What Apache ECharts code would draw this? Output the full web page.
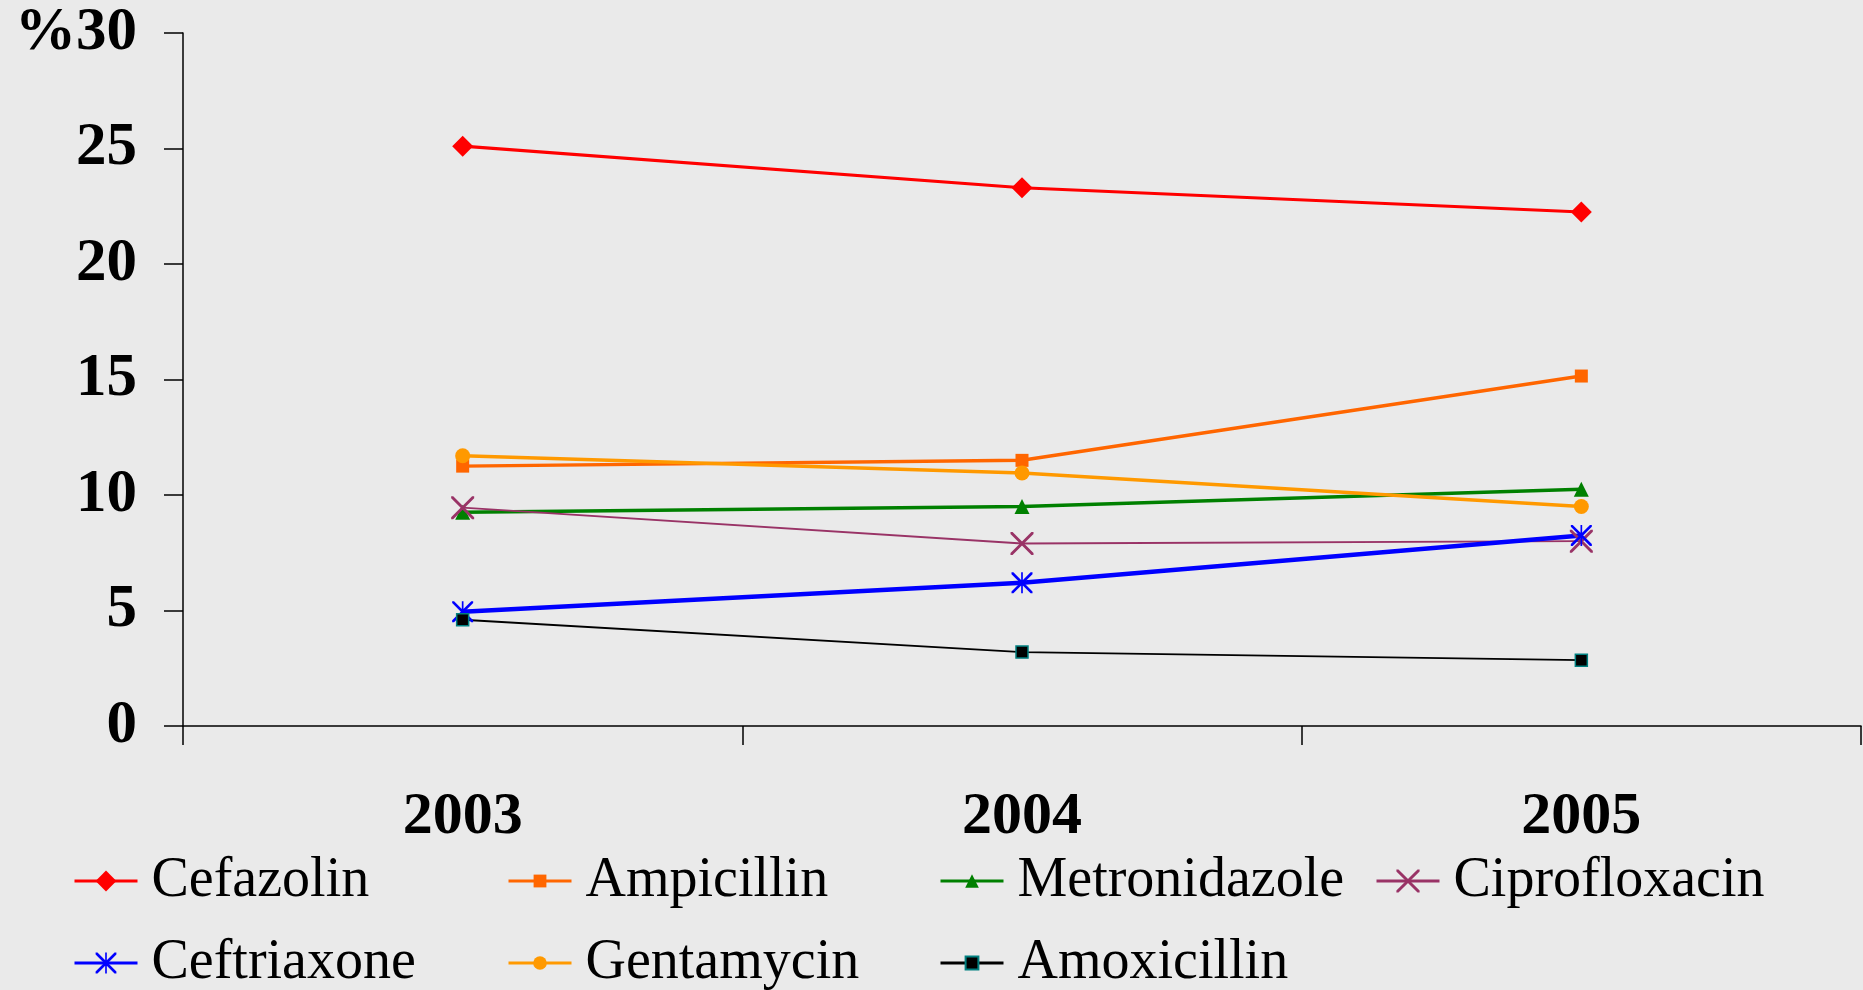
<!DOCTYPE html>
<html>
<head>
<meta charset="utf-8">
<script src="https://cdn.jsdelivr.net/npm/echarts@6/dist/echarts.min.js"></script>
<style>
html,body{margin:0;padding:0;background:#eaeaea;}
#chart{width:1863px;height:990px;}
</style>
</head>
<body>
<div id="chart"></div>
<script>
const years = ['2003', '2004', '2005'];
const yTicks = [0, 5, 10, 15, 20, 25, 30];
const cefazolin = [25.1, 23.3, 22.25];
const ampicillin = [11.25, 11.5, 15.15];
const metronidazole = [9.25, 9.5, 10.25];
const ciprofloxacin = [9.45, 7.9, 8.0];
const ceftriaxone = [4.95, 6.2, 8.25];
const gentamycin = [11.7, 10.95, 9.5];
const amoxicillin = [4.6, 3.2, 2.85];

const FONT = '"Liberation Serif", "Times New Roman", serif';
const xPath = 'path://M0,0 L9,0 L100,91 L100,100 L91,100 L0,9 Z M100,0 L100,9 L9,100 L0,100 L0,91 L91,0 Z';
const starPath = 'path://M0,0 L9,0 L100,91 L100,100 L91,100 L0,9 Z M100,0 L100,9 L9,100 L0,100 L0,91 L91,0 Z M46,0 L54,0 L54,100 L46,100 Z';

const seriesDefs = [
  {name: 'Cefazolin', data: cefazolin, color: '#ff0000', symbol: 'diamond', size: 21, lw: 3.2, legendH: 26},
  {name: 'Ampicillin', data: ampicillin, color: '#ff6600', symbol: 'rect', size: 13, lw: 3.5, legendH: 16},
  {name: 'Metronidazole', data: metronidazole, color: '#008000', symbol: 'triangle', size: 15, lw: 3.5, legendH: 17},
  {name: 'Ciprofloxacin', data: ciprofloxacin, color: '#993366', symbol: xPath, size: 23, lw: 1.8, legendH: 29},
  {name: 'Ceftriaxone', data: ceftriaxone, color: '#0000ff', symbol: starPath, size: 21, lw: 4.5, legendH: 26},
  {name: 'Gentamycin', data: gentamycin, color: '#ff9900', symbol: 'circle', size: 15, lw: 3.5, legendH: 17},
  {name: 'Amoxicillin', data: amoxicillin, color: '#000000', symbol: 'rect', size: 12, lw: 1.8, legendH: 16, border: '#008080'}
];

const legendPos = [
  {left: 73, top: 853}, {left: 507, top: 853}, {left: 939, top: 853}, {left: 1375, top: 853},
  {left: 73, top: 935}, {left: 507, top: 935}, {left: 939, top: 935}
];

const series = seriesDefs.map(d => ({
  name: d.name,
  type: 'line',
  data: d.data,
  symbol: d.symbol,
  symbolSize: d.size,
  showSymbol: true,
  lineStyle: {color: d.color, width: d.lw},
  itemStyle: {color: d.color, borderColor: d.border || d.color, borderWidth: d.border ? 1.5 : 0},
  emphasis: {disabled: true}
}));

const legends = seriesDefs.map((d, i) => ({
  data: [d.name],
  left: legendPos[i].left,
  top: legendPos[i].top,
  padding: 0,
  itemWidth: 63,
  itemHeight: d.legendH,
  itemGap: 0,
  selectedMode: false,
  textStyle: {fontFamily: FONT, fontSize: 56, color: '#000', padding: [0, 0, 0, 9]},
  lineStyle: {width: 3}
}));

const chart = echarts.init(document.getElementById('chart'));
chart.setOption({
  animation: false,
  backgroundColor: '#eaeaea',
  grid: {left: 183, right: 2, top: 33, bottom: 264, containLabel: false},
  legend: legends,
  xAxis: {
    type: 'category',
    data: years,
    boundaryGap: true,
    axisLine: {lineStyle: {color: '#000', width: 1.5}},
    axisTick: {show: true, length: 19, lineStyle: {color: '#000', width: 1.5}, alignWithLabel: false},
    axisLabel: {fontFamily: FONT, fontSize: 60, fontWeight: 'bold', color: '#000', margin: 61},
    splitLine: {show: false}
  },
  yAxis: {
    type: 'value',
    min: 0,
    max: 30,
    interval: 5,
    axisLine: {show: true, lineStyle: {color: '#000', width: 1.5}},
    axisTick: {show: true, length: 19, lineStyle: {color: '#000', width: 1.5}},
    axisLabel: {
      fontFamily: FONT, fontSize: 61, fontWeight: 'bold', color: '#000', margin: 46,
      padding: [5, 0, 0, 0],
      formatter: v => (v === yTicks[yTicks.length - 1] ? '%' + v : String(v))
    },
    splitLine: {show: false}
  },
  series: series
});
</script>
</body>
</html>
